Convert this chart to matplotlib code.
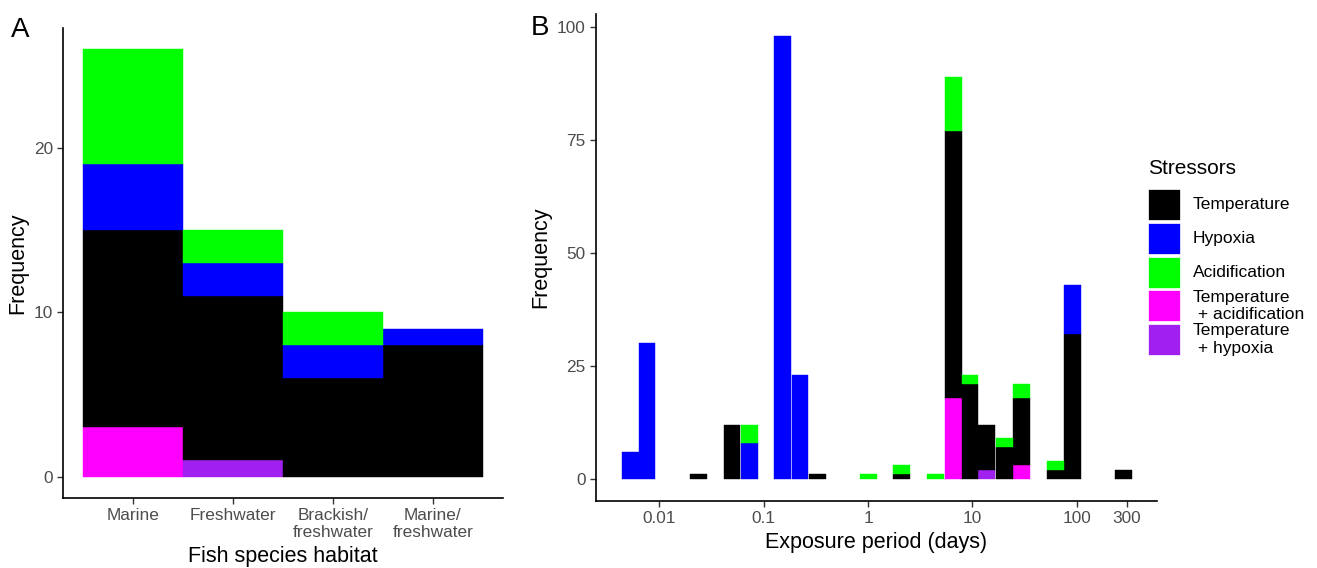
import numpy as np
import matplotlib
matplotlib.use('Agg')
import matplotlib.pyplot as plt
from matplotlib.patches import Rectangle
from matplotlib.ticker import NullLocator

plt.rcParams['font.family'] = ['Liberation Sans', 'DejaVu Sans']

# ---- data, panel A (counts per habitat) ----
habitats = ['Marine', 'Freshwater', 'Brackish/\nfreshwater', 'Marine/\nfreshwater']
a_temp_acid = [3, 0, 0, 0]
a_temp_hyp  = [0, 1, 0, 0]
a_temp      = [12, 10, 6, 8]
a_hypoxia   = [4, 2, 2, 1]
a_acid      = [7, 2, 2, 0]

# ---- data, panel B (30 bins on log10 exposure, days) ----
exp_min, exp_max = 0.00524, 277.0   # centres of first / last bin
b_temp      = [0,0,0,0,1,0,12,0,0,0, 0,1,0,0,0,0,1,0,0,59, 21,10,7,15,0,2,32,0,0,2]
b_hypoxia   = [6,30,0,0,0,0,0,8,0,98, 23,0,0,0,0,0,0,0,0,0, 0,0,0,0,0,0,11,0,0,0]
b_acid      = [0,0,0,0,0,0,0,4,0,0, 0,0,0,0,1,0,2,0,1,12, 2,0,2,3,0,2,0,0,0,0]
b_temp_acid = [0,0,0,0,0,0,0,0,0,0, 0,0,0,0,0,0,0,0,0,18, 0,0,0,3,0,0,0,0,0,0]
b_temp_hyp  = [0,0,0,0,0,0,0,0,0,0, 0,0,0,0,0,0,0,0,0,0, 0,2,0,0,0,0,0,0,0,0]

xticks_b = [0.01, 0.1, 1, 10, 100, 300]
xticklabels_b = ['0.01', '0.1', '1', '10', '100', '300']

stressors = ['Temperature', 'Hypoxia', 'Acidification',
             'Temperature\n + acidification', 'Temperature\n + hypoxia']
colors = ['#000000', '#0000FF', '#00FF00', '#FF00FF', '#A020F0']

W, H = 1317, 568
fig = plt.figure(figsize=(W/100, H/100), dpi=100)

def px_axes(l, t, r, b):
    return fig.add_axes([l/W, 1-b/H, (r-l)/W, (b-t)/H])

def style(ax):
    for s in ['top', 'right']:
        ax.spines[s].set_visible(False)
    for s in ['left', 'bottom']:
        ax.spines[s].set_linewidth(1.2)
    ax.tick_params(length=4, width=1.0, color='#333333', labelcolor='#4D4D4D',
                   labelsize=12.4, pad=3.5)

# stacking order bottom -> top
order_a = [(a_temp_acid, colors[3]), (a_temp_hyp, colors[4]), (a_temp, colors[0]),
           (a_hypoxia, colors[1]), (a_acid, colors[2])]
order_b = [(b_temp_acid, colors[3]), (b_temp_hyp, colors[4]), (b_temp, colors[0]),
           (b_hypoxia, colors[1]), (b_acid, colors[2])]

# ---------- panel A ----------
axA = px_axes(63.3, 28, 502.7, 498)
x = np.arange(len(habitats))
bottom = np.zeros(len(habitats))
for vals, col in order_a:
    vals = np.array(vals, dtype=float)
    k = vals > 0
    axA.bar(x[k], vals[k], width=1.0, bottom=bottom[k], color=col,
            edgecolor=col, linewidth=0.3)
    bottom += vals
axA.set_xlim(-0.694, 3.70)
axA.set_ylim(-1.3, 27.3)
axA.set_yticks([0, 10, 20])
axA.set_xticks(x)
axA.set_xticklabels(habitats, linespacing=1.15)
style(axA)
axA.set_xlabel('Fish species habitat', fontsize=15.5, labelpad=4.5)
axA.set_ylabel('Frequency', fontsize=15.5, labelpad=4)

# ---------- panel B ----------
axB = px_axes(596, 14, 1157, 501)
nb = len(b_temp)
lc = np.linspace(np.log10(exp_min), np.log10(exp_max), nb)
bw = lc[1] - lc[0]
left = 10**(lc - bw/2)
right = 10**(lc + bw/2)
bottom = np.zeros(nb)
for vals, col in order_b:
    vals = np.array(vals, dtype=float)
    k = vals > 0   # skip empty bins so nothing is drawn on the baseline
    axB.bar(left[k], vals[k], width=(right-left)[k], bottom=bottom[k], align='edge',
            color=col, edgecolor=col, linewidth=0.3)
    bottom += vals
axB.set_xscale('log')
span = (lc[-1] + bw/2) - (lc[0] - bw/2)
axB.set_xlim(10**(lc[0] - bw/2 - 0.05*span), 10**(lc[-1] + bw/2 + 0.05*span))
axB.set_ylim(-4.9, 102.9)
axB.set_yticks([0, 25, 50, 75, 100])
axB.set_xticks(xticks_b)
axB.set_xticklabels(xticklabels_b)
axB.xaxis.set_minor_locator(NullLocator())
style(axB)
axB.set_xlabel('Exposure period (days)', fontsize=15.5, labelpad=4)
axB.set_ylabel('Frequency', fontsize=15.5, labelpad=4)

# panel letters
fig.text(11/W, 1-37/H, 'A', fontsize=20)
fig.text(531/W, 1-35/H, 'B', fontsize=20)

# ---------- legend ----------
lax = fig.add_axes([0, 0, 1, 1])
lax.set_xlim(0, W)
lax.set_ylim(H, 0)
lax.axis('off')
lax.text(1148, 168, 'Stressors', fontsize=15, va='center', ha='left')
for i, (lab, col) in enumerate(zip(stressors, colors)):
    y0 = 189 + i*33.8
    lax.add_patch(Rectangle((1148, y0), 32, 31, facecolor=col,
                            edgecolor='white', linewidth=0.5))
    lax.text(1193, y0 + 15.5, lab, fontsize=12.5, va='center', ha='left',
             linespacing=1.2)

fig.savefig('out.png', dpi=100)
